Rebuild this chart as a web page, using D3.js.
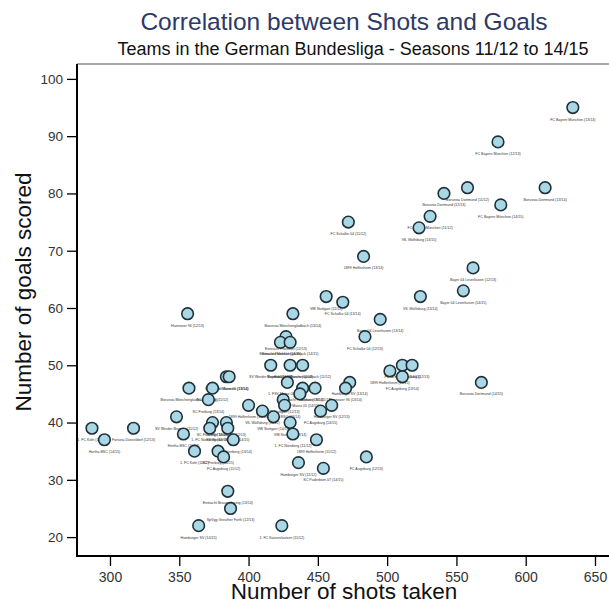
<!DOCTYPE html>
<html>
<head>
<meta charset="utf-8">
<script src="https://cdn.jsdelivr.net/npm/d3@7"></script>
<style>
  body { margin: 0; background: #fff; }
  svg { display: block; font-family: "Liberation Sans", Arial, sans-serif; }
  .axis path, .axis line { stroke: #000; }
  .axis text { fill: #333; font-size: 13.5px; }
  .team { font-size: 3.6px; fill: #333; text-anchor: middle; }
</style>
</head>
<body>
<svg id="chart" width="609" height="604"></svg>
<script>
'use strict';

// team / season of each dot
var teams = [
  'FC Bayern München (13/14)', 'FC Bayern München (12/13)', 'Borussia Dortmund (13/14)',
  'Borussia Dortmund (11/12)', 'Borussia Dortmund (12/13)', 'FC Bayern München (14/15)',
  'FC Bayern München (11/12)', 'VfL Wolfsburg (14/15)', 'FC Schalke 04 (11/12)',
  '1899 Hoffenheim (13/14)', 'Bayer 04 Leverkusen (12/13)', 'Bayer 04 Leverkusen (14/15)',
  'VfL Wolfsburg (13/14)', 'VfB Stuttgart (11/12)', 'FC Schalke 04 (13/14)',
  'Bayer 04 Leverkusen (13/14)', 'FC Schalke 04 (12/13)', 'Hannover 96 (12/13)',
  'Borussia Mönchengladbach (13/14)', 'Eintracht Frankfurt (12/13)', 'Eintracht Frankfurt (14/15)',
  'Borussia Mönchengladbach (14/15)', 'SV Werder Bremen (12/13)', 'Bayer 04 Leverkusen (11/12)',
  'Borussia Mönchengladbach (11/12)', '1899 Hoffenheim (14/15)', 'FC Schalke 04 (14/15)',
  'VfL Wolfsburg (12/13)', 'FC Augsburg (13/14)', 'SV Werder Bremen (13/14)',
  '1. FSV Mainz 05 (13/14)', 'Borussia Mönchengladbach (12/13)', 'SC Freiburg (11/12)',
  'SC Freiburg (13/14)', '1. FSV Mainz 05 (11/12)', 'Eintracht Frankfurt (13/14)',
  'Hannover 96 (11/12)', '1. FSV Mainz 05 (14/15)', 'Hamburger SV (13/14)',
  'Hannover 96 (13/14)', 'VfB Stuttgart (12/13)', 'Hertha BSC (13/14)',
  '1899 Hoffenheim (12/13)', 'FC Augsburg (14/15)', 'Hamburger SV (12/13)',
  'VfL Wolfsburg (11/12)', 'VfB Stuttgart (14/15)', 'SV Werder Bremen (11/12)',
  'SC Freiburg (12/13)', '1. FSV Mainz 05 (12/13)', '1. FC Nürnberg (12/13)',
  'SV Werder Bremen (14/15)', 'VfB Stuttgart (13/14)', 'Hertha BSC (11/12)',
  '1. FC Nürnberg (13/14)', '1. FC Nürnberg (11/12)', '1899 Hoffenheim (11/12)',
  '1. FC Köln (11/12)', 'SC Freiburg (14/15)', 'FC Augsburg (11/12)',
  'Hamburger SV (11/12)', 'SC Paderborn 07 (14/15)', 'FC Augsburg (12/13)',
  'Borussia Dortmund (14/15)', '1. FC Köln (14/15)', 'Hertha BSC (14/15)',
  'Fortuna Düsseldorf (12/13)', 'Eintracht Braunschweig (13/14)', 'SpVgg Greuther Fürth (12/13)',
  'Hamburger SV (14/15)', '1. FC Kaiserslautern (11/12)'
];

var shots = [
  634, 580, 614, 558, 541, 582, 531, 523, 472, 483, 562, 555, 524, 456, 468,
  495, 484, 356, 432, 427, 423, 430, 416, 430, 439, 502, 511, 518, 511, 384,
  386, 357, 374, 371, 428, 439, 448, 437, 473, 470, 425, 426, 400, 452, 460,
  410, 418, 348, 374, 384, 372, 385, 430, 353, 389, 432, 449, 361, 378, 382,
  436, 454, 485, 568, 287, 296, 317, 385, 387, 364, 424
];

var goals = [
  95, 89, 81, 81, 80, 78, 76, 74, 75, 69, 67, 63, 62, 62, 61,
  58, 55, 59, 59, 55, 54, 54, 50, 50, 50, 49, 50, 50, 48, 48,
  48, 46, 46, 44, 47, 46, 46, 45, 47, 46, 44, 43, 43, 42, 43,
  42, 41, 41, 40, 40, 39, 39, 40, 38, 37, 38, 37, 35, 35, 34,
  33, 32, 34, 47, 39, 37, 39, 28, 25, 22, 22
];

var xTicks = [300, 350, 400, 450, 500, 550, 600, 650];
var yTicks = [20, 30, 40, 50, 60, 70, 80, 90, 100];

var svg = d3.select('#chart');

// plot box edges in px
var plotLeft = 77, plotRight = 609, plotTop = 64, plotBottom = 556;

var x = d3.scaleLinear().domain([276.2, 660.1]).range([plotLeft, plotRight]);
var y = d3.scaleLinear().domain([16.7, 102.6]).range([plotBottom, plotTop]);

// titles
svg.append('text')
  .attr('x', 344).attr('y', 30)
  .attr('text-anchor', 'middle')
  .style('font-size', '24.5px')
  .style('fill', '#2d3a66')
  .text('Correlation between Shots and Goals');

svg.append('text')
  .attr('x', 353).attr('y', 55)
  .attr('text-anchor', 'middle')
  .style('font-size', '18px')
  .style('fill', '#111')
  .text('Teams in the German Bundesliga - Seasons 11/12 to 14/15');

// top frame line
svg.append('line')
  .attr('x1', plotLeft).attr('x2', plotRight)
  .attr('y1', plotTop).attr('y2', plotTop)
  .style('stroke', '#888')
  .style('stroke-width', 1.5);

// axes
var xAxis = d3.axisBottom(x).tickValues(xTicks).tickSize(10).tickPadding(6).tickSizeOuter(0);
var yAxis = d3.axisLeft(y).tickValues(yTicks).tickSize(10).tickPadding(4).tickSizeOuter(0);

var gx = svg.append('g')
  .attr('class', 'axis')
  .attr('transform', 'translate(0,' + plotBottom + ')')
  .call(xAxis);
gx.select('.domain').attr('d', 'M' + (plotLeft - 1) + ',0H' + plotRight).style('stroke-width', 2);
gx.selectAll('.tick line').style('stroke-width', 1.3);
gx.selectAll('.tick text').style('font-size', '14px');

var gy = svg.append('g')
  .attr('class', 'axis')
  .attr('transform', 'translate(' + plotLeft + ',0)')
  .call(yAxis);
gy.select('.domain').attr('d', 'M0,' + plotTop + 'V' + (plotBottom + 1)).style('stroke-width', 2);
gy.selectAll('.tick line').style('stroke-width', 1.3);

// axis titles
svg.append('text')
  .attr('x', 344).attr('y', 599)
  .attr('text-anchor', 'middle')
  .style('font-size', '22.5px')
  .style('fill', '#111')
  .text('Number of shots taken');

svg.append('text')
  .attr('transform', 'translate(31,292) rotate(-90)')
  .attr('text-anchor', 'middle')
  .style('font-size', '22.5px')
  .style('fill', '#111')
  .text('Number of goals scored');

// dots + labels
var idx = d3.range(teams.length);

var pts = svg.append('g').selectAll('g')
  .data(idx)
  .enter().append('g')
  .attr('transform', (i) => { return 'translate(' + x(shots[i]) + ',' + y(goals[i]) + ')'; });

pts.append('circle')
  .attr('r', 5.8)
  .style('fill', '#a9d7e6')
  .style('stroke', '#1f3038')
  .style('stroke-width', 1.6);

pts.append('text')
  .attr('class', 'team')
  .attr('y', 13)
  .text((i) => { return teams[i]; });
</script>
</body>
</html>
